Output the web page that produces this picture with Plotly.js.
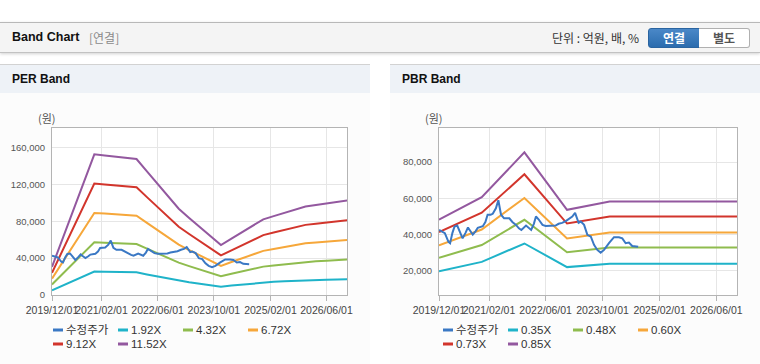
<!DOCTYPE html>
<html>
<head>
<meta charset="utf-8">
<script src="https://cdn.plot.ly/plotly-3.0.1.min.js"></script>
<style>
html,body{margin:0;padding:0;background:#fff;width:760px;height:364px;overflow:hidden;
  font-family:"Liberation Sans","Noto Sans CJK KR",sans-serif;}
#hdr{position:absolute;left:0;top:22px;width:760px;height:29px;background:#f4f4f4;
  border-top:1px solid #b8b8b8;border-bottom:1px solid #c2c2c2;box-shadow:0 1px 3px rgba(0,0,0,0.18);}
#hdrTitle{position:absolute;left:12px;top:0;line-height:29px;font-size:12.5px;font-weight:bold;color:#111;}
#hdrSub{position:absolute;left:89px;top:0;line-height:29px;font-size:12px;color:#8a8a8a;font-family:"Noto Sans CJK KR",sans-serif;}
#unit{position:absolute;left:552px;top:0;line-height:29px;font-size:12px;color:#333;font-family:"Noto Sans CJK KR",sans-serif;}
.btn{position:absolute;top:5px;height:18px;line-height:18px;font-size:12px;font-weight:bold;text-align:center;
  font-family:"Noto Sans CJK KR",sans-serif;box-sizing:content-box;}
#b1{left:648px;width:50px;background:linear-gradient(#4a88c8,#2b6cae);color:#fff;border:1px solid #2a64a0;border-radius:3px 0 0 3px;}
#b2{left:699px;width:50px;background:#fff;color:#555;border:1px solid #b0b0b0;border-left:none;border-radius:0 3px 3px 0;}
.panel{position:absolute;top:64px;width:370px;height:299px;background:#fcfcfc;border-top:1px solid #d2d2d2;border-bottom:1px solid #d6d6d6;}
.ptitle{position:absolute;left:0;top:0;width:370px;height:28px;background:#eef2f7;}
.ptitle span{position:absolute;left:12px;top:0;line-height:29px;font-size:12px;font-weight:bold;color:#111;}
.chart{position:absolute;left:0;top:28px;width:370px;height:270px;}
</style>
</head>
<body>
<div id="hdr">
  <div id="hdrTitle">Band Chart</div>
  <div id="hdrSub">[연결]</div>
  <div id="unit">단위 : 억원, 배, %</div>
  <div class="btn" id="b1">연결</div>
  <div class="btn" id="b2">별도</div>
</div>
<div class="panel" style="left:0;">
  <div class="ptitle"><span>PER Band</span></div>
  <div class="chart" id="per"></div>
</div>
<div class="panel" style="left:390px;">
  <div class="ptitle"><span>PBR Band</span></div>
  <div class="chart" id="pbr"></div>
</div>
<script>
// ---------- data ----------
const perNames = ['수정주가','1.92X','4.32X','6.72X','9.12X','11.52X'];
const pbrNames = ['수정주가','0.35X','0.48X','0.60X','0.73X','0.85X'];

const perDates = ['2019-12-01','2020-03-01','2020-06-01','2020-09-01','2020-12-01','2021-03-01','2021-06-01','2021-09-01',
  '2021-12-01','2022-03-01','2022-06-01','2022-09-01','2022-12-01','2023-03-01','2023-06-01','2023-09-01',
  '2023-12-01','2024-03-01','2024-06-01','2024-09-01','2024-12-01','2025-03-01','2025-06-01','2025-09-01',
  '2025-12-01','2026-03-01','2026-06-01','2026-09-01','2026-12-01'];
const per192 = [5080,10170,15250,20330,25420,25220,25000,24800,24570,22330,20080,17830,15580,13920,12250,10580,
  9030,10200,11350,12500,13670,14250,14830,15420,16000,16270,16530,16820,17080];
const per432 = [11440,22880,34310,45750,57190,56740,56250,55800,55280,50250,45190,40130,35060,31310,27560,23810,
  20330,22950,25540,28130,30750,32060,33380,34690,36000,36600,37200,37840,38440];
const per672 = [17790,35580,53380,71170,88960,88260,87500,86800,85980,78170,70290,62420,54540,48710,42880,37040,
  31620,35700,39730,43750,47830,49880,51920,53960,56000,56930,57870,58860,59790];
const per912 = [24150,48290,72440,96580,120730,119780,118750,117800,116690,106080,95400,84710,74020,66100,58190,50270,
  42910,48450,53910,59380,64920,67690,70460,73230,76000,77270,78530,79880,81150];
const per1152 = [30500,61000,91500,122000,152500,151300,150000,148800,147400,134000,120500,107000,93500,83500,73500,63500,
  54200,61200,68100,75000,82000,85500,89000,92500,96000,97600,99200,100900,102500];

const pbrDates = ['2019-12-01','2020-12-01','2021-12-01','2022-12-01','2023-12-01','2026-12-01'];
const pbr035 = [19880,24990,35140,22120,24010,24010];
const pbr048 = [27260,34270,48190,30340,32930,32930];
const pbr060 = [34080,42840,60240,37920,41160,41160];
const pbr073 = [41460,52120,73290,46140,50080,50080];
const pbr085 = [48280,60690,85340,53720,58310,58310];

const priceDates = ['2019-12-01','2019-12-25','2020-01-20','2020-02-20','2020-03-05','2020-03-25','2020-04-12','2020-05-05',
  '2020-05-25','2020-06-20','2020-07-15','2020-08-05','2020-08-25','2020-09-15','2020-10-10','2020-10-28','2020-12-10',
  '2021-01-01','2021-01-20','2021-02-15','2021-03-05','2021-04-01','2021-04-22','2021-05-15','2021-06-10','2021-07-25',
  '2021-08-20','2021-09-20','2021-10-15','2021-11-05','2021-12-15','2022-01-28','2022-02-20','2022-03-10','2022-04-01',
  '2022-05-05','2022-06-01','2022-07-15','2022-08-25','2022-09-20','2022-10-20','2022-11-20','2022-12-20','2023-01-15',
  '2023-02-08','2023-03-10','2023-03-29','2023-04-26','2023-05-24','2023-06-22','2023-07-20','2023-08-17','2023-09-15',
  '2023-10-14','2023-11-25','2024-01-07','2024-02-18','2024-03-18','2024-04-16','2024-05-14','2024-06-11','2024-08-01'];
const priceValues = [42600,41500,40800,36000,35300,41000,44500,45000,
  41500,38000,41000,44000,42000,40000,42000,43800,44700,
  47000,51000,51000,51500,54500,59000,51000,49000,49000,
  47000,45400,43500,42600,45000,42600,46000,50000,48500,
  45400,44800,44800,45000,46000,46500,47500,49000,50000,
  52000,46500,47200,45400,39900,39000,34400,31600,30100,
  31600,35300,38600,38600,38000,35300,35700,33800,33400];

const xTickVals = ['2019-12-01','2021-02-01','2022-06-01','2023-10-01','2025-02-01','2026-06-01'];
const xTickText = ['2019/12/01','2021/02/01','2022/06/01','2023/10/01','2025/02/01','2026/06/01'];
const xRange = ['2019-12-01','2026-11-25'];
const perYTicks = [0,40000,80000,120000,160000];
const pbrYTicks = [20000,40000,60000,80000];
const perYRange = [0,181000];
const pbrYRange = [6750,98800];
const seriesColors = ['#3a78c4','#1fb3c9','#8fbc4e','#f6a73a','#d2352c','#93589f'];

// ---------- build ----------
const FONT = 'Liberation Sans, Noto Sans CJK KR, sans-serif';
const AXFONT = 'Liberation Sans Narrow, Liberation Sans, sans-serif';
function build(id, names, bandDates, bands, yTicks, yRange, ml) {
  const W = 370, H = 270, mt = 35, mb = 68, mr = 23;
  const pw = W - ml - mr, ph = H - mt - mb;
  const xp = px => (px - ml) / pw;
  const yp = py => 1 - (py - mt) / ph;
  const traces = [];
  bands.forEach((b, i) => {
    traces.push({x: bandDates, y: b, type: 'scatter', mode: 'lines', name: names[i + 1],
      line: {color: seriesColors[i + 1], width: 2}, hoverinfo: 'skip'});
  });
  traces.push({x: priceDates, y: priceValues, type: 'scatter', mode: 'lines', name: names[0],
    line: {color: seriesColors[0], width: 2}, hoverinfo: 'skip'});

  const shapes = [], annotations = [];
  const colX = [53, 118, 183, 248], rowY = [237, 251];
  names.forEach((n, i) => {
    const cx = colX[i % 4], cy = rowY[Math.floor(i / 4)];
    shapes.push({type: 'line', xref: 'paper', yref: 'paper', x0: xp(cx), x1: xp(cx + 10), y0: yp(cy), y1: yp(cy),
      line: {color: seriesColors[i], width: 3}});
    annotations.push({xref: 'paper', yref: 'paper', x: xp(cx + 11), y: yp(cy), xanchor: 'left', yanchor: 'middle',
      text: n, showarrow: false, font: {size: 11.5, color: '#333', family: FONT}});
  });
  annotations.push({xref: 'paper', yref: 'paper', x: xp(ml - 5), y: yp(25), xanchor: 'center', yanchor: 'middle',
    text: '(원)', showarrow: false, font: {size: 11, color: '#555', family: 'Noto Sans CJK KR, sans-serif'}});

  const layout = {
    width: W, height: H, margin: {l: ml, r: mr, t: mt, b: mb, pad: 0},
    paper_bgcolor: '#fcfcfc', plot_bgcolor: '#ffffff', showlegend: false,
    font: {family: FONT, size: 10, color: '#555'},
    xaxis: {type: 'date', range: xRange, tickvals: xTickVals, ticktext: xTickText, tickmode: 'array', tickangle: 0,
      showgrid: true, gridcolor: '#e6e6e6', gridwidth: 1, showline: true, linecolor: '#b4b4b4', linewidth: 1,
      mirror: true, ticks: 'outside', ticklen: 5, tickcolor: '#b4b4b4', zeroline: false,
      tickfont: {size: 10.5, color: '#444', family: AXFONT}, automargin: false, fixedrange: true},
    yaxis: {range: yRange, tickvals: yTicks, tickmode: 'array', tickformat: ',d',
      showgrid: true, gridcolor: '#e6e6e6', gridwidth: 1, showline: true, linecolor: '#b4b4b4', linewidth: 1,
      mirror: true, ticks: '', zeroline: false, ticklabelstandoff: 4,
      tickfont: {size: 9.5, color: '#555', family: FONT}, automargin: false, fixedrange: true},
    shapes: shapes, annotations: annotations
  };
  Plotly.newPlot(id, traces, layout, {staticPlot: true, displayModeBar: false});
}

build('per', perNames, perDates, [per192, per432, per672, per912, per1152], perYTicks, perYRange, 52);
build('pbr', pbrNames, pbrDates, [pbr035, pbr048, pbr060, pbr073, pbr085], pbrYTicks, pbrYRange, 49);
</script>
</body>
</html>
